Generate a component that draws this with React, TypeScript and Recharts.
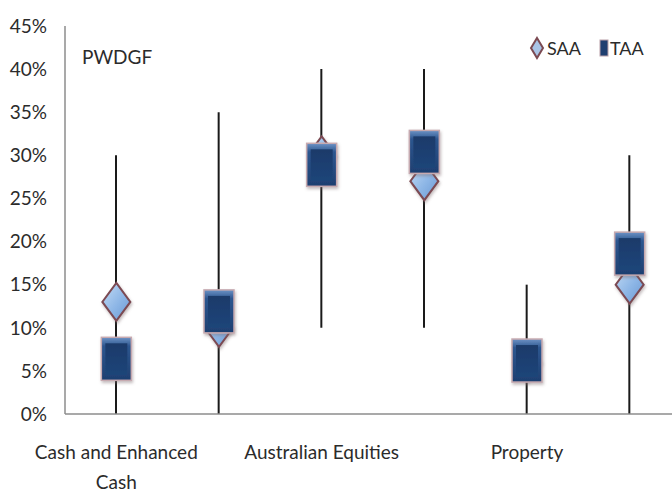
import React from 'react';
import { ComposedChart, Bar, Scatter, XAxis, YAxis, Legend, Text } from 'recharts';

const categories = ['Cash and Enhanced Cash', '', 'Australian Equities', '', 'Property', ''];
const rangeMin = [0, 0, 10, 10, 0, 0];
const rangeMax = [30, 35, 40, 40, 15, 30];
const saaValues = [13, 10, 30, 27, 6, 15];
const taaValues = [6.4, 11.9, 28.9, 30.4, 6.2, 18.6];
const yTicks = [0, 5, 10, 15, 20, 25, 30, 35, 40, 45];
const chartTitle = 'PWDGF';

const data = categories.map((name, i) => ({
  id: i,
  name,
  range: [rangeMin[i], rangeMax[i]],
  saa: saaValues[i],
  taa: taaValues[i],
}));

const FONT = "Lato, 'Open Sans', sans-serif";
const TEXT_COLOR = '#2b2b2b';

const Diamond = (props: any) => {
  const { cx, cy } = props;
  if (cx == null || cy == null) return null;
  const w = 14, h = 19;
  return (
    <g filter="url(#shadow)">
      <polygon
        points={`${cx},${cy - h} ${cx + w},${cy} ${cx},${cy + h} ${cx - w},${cy}`}
        fill="url(#saaGrad)"
        stroke="#7b4a52"
        strokeWidth={2}
      />
    </g>
  );
};

const Square = (props: any) => {
  const { cx, cy } = props;
  if (cx == null || cy == null) return null;
  const w = 30, h = 43;
  return (
    <g filter="url(#shadow)">
      <rect x={cx - w / 2} y={cy - h / 2} width={w} height={h} fill="url(#taaGrad)" stroke="#c7aab0" strokeWidth={1.5} />
      <rect x={cx - w / 2 + 4} y={cy - h / 2 + 6} width={w - 8} height={h - 11} fill="url(#taaInner)" />
    </g>
  );
};

const XTick = (props: any) => {
  const { x, y, payload } = props;
  const label = categories[payload.index] ?? payload.value;
  if (!label) return null;
  return (
    <Text
      x={x}
      y={y + 32}
      width={170}
      textAnchor="middle"
      verticalAnchor="start"
      lineHeight={30}
      fontSize={19}
      fontFamily={FONT}
      style={{ fontSize: 19, fontFamily: FONT }}
      fill={TEXT_COLOR}
    >
      {label}
    </Text>
  );
};

const renderLegend = (props: any) => {
  const { payload } = props;
  return (
    <div style={{ display: 'flex', alignItems: 'center', fontFamily: FONT, fontSize: 18, color: TEXT_COLOR }}>
      {payload
        .filter((p: any) => p.dataKey === 'saa' || p.dataKey === 'taa')
        .map((p: any) => (
          <div key={p.dataKey} style={{ display: 'flex', alignItems: 'center', marginRight: 18 }}>
            {p.dataKey === 'saa' ? (
              <svg width={16} height={24} style={{ marginRight: 2 }}>
                <polygon points="8,2 14,12 8,22 2,12" fill="#a9c4e6" stroke="#7b4a52" strokeWidth={2} />
              </svg>
            ) : (
              <svg width={10} height={18} style={{ marginRight: 1 }}>
                <rect x={1} y={1} width={8} height={16} fill="#1f3f70" stroke="#b9a0a8" strokeWidth={1} />
              </svg>
            )}
            <span>{p.value}</span>
          </div>
        ))}
    </div>
  );
};

export default function App() {
  return (
    <div style={{ position: 'absolute', left: 0, top: 0, width: 672, height: 498, background: '#fff', overflow: 'hidden' }}>
      <ComposedChart
        width={672}
        height={498}
        data={data}
        margin={{ top: 26, right: -9, left: 0, bottom: 0 }}
      >
        <defs>
          <linearGradient id="saaGrad" x1="0" y1="0" x2="1" y2="1">
            <stop offset="0%" stopColor="#c4dcf5" />
            <stop offset="55%" stopColor="#8db6e6" />
            <stop offset="100%" stopColor="#6a98d2" />
          </linearGradient>
          <linearGradient id="taaGrad" x1="0" y1="0" x2="0" y2="1">
            <stop offset="0%" stopColor="#6d93c6" />
            <stop offset="20%" stopColor="#2d568f" />
            <stop offset="100%" stopColor="#1e3f70" />
          </linearGradient>
          <linearGradient id="taaInner" x1="0" y1="0" x2="0" y2="1">
            <stop offset="0%" stopColor="#1a3a6a" />
            <stop offset="100%" stopColor="#1f4579" />
          </linearGradient>
          <filter id="shadow" x="-30%" y="-30%" width="160%" height="160%">
            <feDropShadow dx="1" dy="2" stdDeviation="1.5" floodColor="#7a6a70" floodOpacity="0.45" />
          </filter>
        </defs>
        <XAxis
          dataKey="id"
          type="category"
          height={84}
          interval={0}
          tickLine={false}
          tickSize={0}
          tickMargin={0}
          tick={<XTick />}
          axisLine={{ stroke: '#8c8c8c', strokeWidth: 1.5 }}
        />
        <YAxis
          width={65}
          domain={[0, 45]}
          ticks={yTicks}
          interval={0}
          tickFormatter={(v: number) => `${v}%`}
          tickLine={false}
          tickSize={10}
          tickMargin={8}
          axisLine={{ stroke: '#8c8c8c', strokeWidth: 1.5 }}
          tick={{ fontSize: 19, fontFamily: FONT, fill: TEXT_COLOR }}
        />
        <Legend
          layout="horizontal"
          verticalAlign="middle"
          align="center"
          content={renderLegend}
          wrapperStyle={{ top: 36, left: 529, width: 150 }}
        />
        <Bar dataKey="range" barSize={2} fill="#1a1a1a" legendType="none" isAnimationActive={false} />
        <Scatter name="SAA" dataKey="saa" shape={<Diamond />} isAnimationActive={false} />
        <Scatter name="TAA" dataKey="taa" shape={<Square />} isAnimationActive={false} />
      </ComposedChart>
      <div
        style={{
          position: 'absolute',
          left: 82,
          top: 43,
          fontFamily: FONT,
          fontSize: 19,
          color: TEXT_COLOR,
          lineHeight: '28px',
        }}
      >
        {chartTitle}
      </div>
    </div>
  );
}
